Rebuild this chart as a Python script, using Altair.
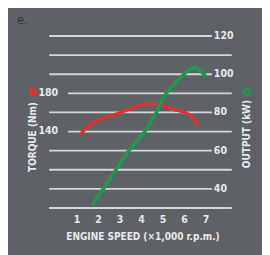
import altair as alt
import pandas as pd

# ---- data ----
torque_rpm = [1.19, 1.45, 2.07, 3.0, 3.62, 4.24, 4.86, 5.48, 6.26, 6.6]
torque_nm = [138, 144.5, 152.6, 159.6, 164.9, 169.1, 167.7, 163.2, 157.2, 147]

output_rpm = [1.74, 3.37, 4.16, 4.72, 5.0, 5.65, 6.1, 6.5, 6.95]
output_kw = [32, 59.5, 70, 80.5, 88, 96.5, 101.5, 103.8, 99.5]

grid_plain_kw = [30, 50, 110]          # lines with no label
grid_right_kw = [40, 60, 80, 100, 120]  # lines labelled on the right (kW)
grid_left_nm = [140, 180]              # lines labelled on the left (Nm)
x_ticks = [1, 2, 3, 4, 5, 6, 7]

BG = "#5e6266"
GRID = "#d4d6d8"
LABEL = "#e6e8ea"
RED = "#e2312c"
GREEN = "#1d9a4e"
FONT = "DejaVu Sans Condensed, Liberation Sans Narrow, DejaVu Sans"

# layout: the chart fills the page edge to edge; the page is then shown
# slightly reduced, so layout numbers are scaled up accordingly
SX, SY = 278 / 270, 263 / 255
SVG_W, SVG_H = 262, 247
PL = 49 * SX - 8
PT = 32 * SY - 8
W, H = 183 * SX, 172 * SY
PR = SVG_W - PL - W
PB = SVG_H - PT - H


def px(v):
    return v * SX


def py(v):
    return v * SY


xs = alt.Scale(domain=[-0.3, 8.2], nice=False, zero=False)
kw = alt.Scale(domain=[30, 120], nice=False, zero=False)
nm = alt.Scale(domain=[60, 240], nice=False, zero=False)

df_t = pd.DataFrame({"rpm": torque_rpm, "v": torque_nm})
df_o = pd.DataFrame({"rpm": output_rpm, "v": output_kw})
df_gp = pd.DataFrame({"v": grid_plain_kw})
df_gr = pd.DataFrame({"v": grid_right_kw})
df_gl = pd.DataFrame({"v": grid_left_nm})
df_x = pd.DataFrame({"rpm": x_ticks})

FS = 10.5 * SY
grid_plain = alt.Chart(df_gp).mark_rule(color=GRID, strokeWidth=1.9).encode(
    y=alt.Y("v:Q", scale=kw, axis=None), x=alt.value(0), x2=alt.value(W))
grid_right = alt.Chart(df_gr).mark_rule(color=GRID, strokeWidth=1.9).encode(
    y=alt.Y("v:Q", scale=kw, axis=None), x=alt.value(0), x2=alt.value(px(163)))
grid_left = alt.Chart(df_gl).mark_rule(color=GRID, strokeWidth=1.9).encode(
    y=alt.Y("v:Q", scale=nm, axis=None), x=alt.value(px(19)), x2=alt.value(W))

lab_right = alt.Chart(df_gr).mark_text(
    align="left", baseline="middle", font=FONT, fontSize=FS, fontWeight="bold",
    color=LABEL).encode(y=alt.Y("v:Q", scale=kw, axis=None), x=alt.value(px(165)),
                        text="v:Q")
lab_left = alt.Chart(df_gl).mark_text(
    align="right", baseline="middle", font=FONT, fontSize=FS, fontWeight="bold",
    color=LABEL).encode(y=alt.Y("v:Q", scale=nm, axis=None), x=alt.value(px(9)),
                        text="v:Q")

xaxis = alt.Chart(df_x).mark_text(
    baseline="middle", font=FONT, fontSize=FS, fontWeight="bold",
    color=LABEL).encode(x=alt.X("rpm:Q", scale=xs, axis=None),
                        y=alt.value(py(184)), text="rpm:Q")

torque_line = alt.Chart(df_t).mark_line(
    color=RED, strokeWidth=3.3, interpolate="monotone", strokeCap="round").encode(
    x=alt.X("rpm:Q", scale=xs, axis=None), y=alt.Y("v:Q", scale=nm, axis=None))
output_line = alt.Chart(df_o).mark_line(
    color=GREEN, strokeWidth=3.7, strokeCap="round").encode(
    x=alt.X("rpm:Q", scale=xs, axis=None), y=alt.Y("v:Q", scale=kw, axis=None))

TS = 10 * SY
xtitle = alt.Chart(pd.DataFrame({"t": ["ENGINE SPEED (×1,000 r.p.m.)"]})).mark_text(
    font=FONT, fontSize=TS, fontWeight="bold", color=LABEL, baseline="middle").encode(
    x=alt.value(px(94)), y=alt.value(py(201)), text="t:N")

ltitle = alt.Chart(pd.DataFrame({"t": ["TORQUE (Nm)"]})).mark_text(
    font=FONT, fontSize=TS, fontWeight="bold", color=LABEL, angle=270,
    baseline="middle").encode(x=alt.value(px(-16)), y=alt.value(py(101)), text="t:N")
rtitle = alt.Chart(pd.DataFrame({"t": ["OUTPUT (kW)"]})).mark_text(
    font=FONT, fontSize=TS, fontWeight="bold", color=LABEL, angle=270,
    baseline="middle").encode(x=alt.value(px(198)), y=alt.value(py(98)), text="t:N")

lmark = alt.Chart(pd.DataFrame({"a": [0]})).mark_square(
    color=RED, size=48, opacity=1, filled=True).encode(
    x=alt.value(px(-16)), y=alt.value(py(56)))
rmark = alt.Chart(pd.DataFrame({"a": [0]})).mark_point(
    color=GREEN, size=42, strokeWidth=2.3, opacity=1, filled=False).encode(
    x=alt.value(px(198)), y=alt.value(py(56)))

elabel = alt.Chart(pd.DataFrame({"t": ["e."]})).mark_text(
    font=FONT, fontSize=12.5, color="#34373b", align="left", baseline="middle").encode(
    x=alt.value(px(-32)), y=alt.value(py(-16)), text="t:N")

chart = alt.layer(
    grid_plain, grid_right, grid_left, lab_right, lab_left, xaxis,
    torque_line, output_line, xtitle, ltitle, rtitle, lmark, rmark, elabel
).resolve_scale(y="independent").properties(
    width=W, height=H,
    autosize=alt.AutoSizeParams(type="none"),
    padding={"left": PL, "top": PT, "right": PR, "bottom": PB},
    background=BG,
).configure_view(stroke=None)

chart.save("out.html", embed_options={"renderer": "svg", "actions": False})
